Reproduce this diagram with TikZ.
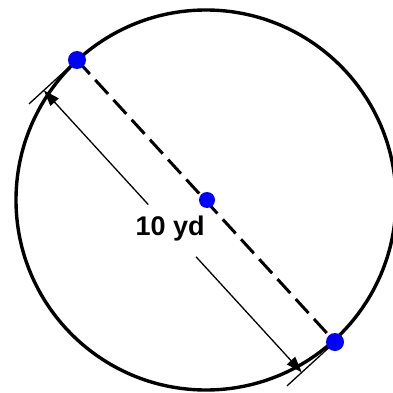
\documentclass[tikz,border=0pt]{standalone}
\usepackage{fontspec}
\setmainfont{Liberation Sans}
\usetikzlibrary{arrows.meta,calc}
\tikzset{
  dot/.style={circle,fill=blue,draw=none,inner sep=0pt,minimum size=18pt},
  rim/.style={line width=3.4pt},
  diam/.style={line width=3pt,dash pattern=on 19pt off 8pt},
  thin/.style={line width=1.3pt},
  dimtip/.style={-{Triangle[length=16pt,width=11pt]}},
  lbl/.style={font=\fontsize{27}{27}\selectfont\bfseries,inner sep=0pt}
}
\begin{document}
\begin{tikzpicture}[x=1pt,y=-1pt]
\useasboundingbox (0,0) rectangle (393,393);
\fill[white] (0,0) rectangle (393,393);
\coordinate (O) at (206,200);
\begin{scope}
  \clip (0,0) rectangle (393,393);
  \draw[rim] (O) circle[radius=190];
\end{scope}
\coordinate (Ac) at (77,60);
\coordinate (Bc) at (335,342);
\draw[diam] (Ac) -- (Bc);
% extension lines
\coordinate (E1) at ($(Ac)!65pt!-90:(Bc)$);
\coordinate (E2) at ($(Bc)!65pt!90:(Ac)$);
\draw[thin] (Ac) -- (E1);
\draw[thin] (Bc) -- (E2);
% dimension line
\coordinate (D1) at ($(Ac)!45pt!-90:(Bc)$);
\coordinate (D2) at ($(Bc)!45pt!90:(Ac)$);
\coordinate (G1) at ($(D1)!0.405!(D2)$);
\coordinate (G2) at ($(D1)!0.59!(D2)$);
\draw[thin,dimtip] (G1) -- (D1);
\draw[thin,dimtip] (G2) -- (D2);
\node[lbl] (L) at ($(D1)!0.49!(D2)$) {10 yd};
\node[dot] (A) at (Ac) {};
\node[dot] (B) at (Bc) {};
\node[dot,minimum size=16pt] (C) at (207,200) {};
\end{tikzpicture}
\end{document}
